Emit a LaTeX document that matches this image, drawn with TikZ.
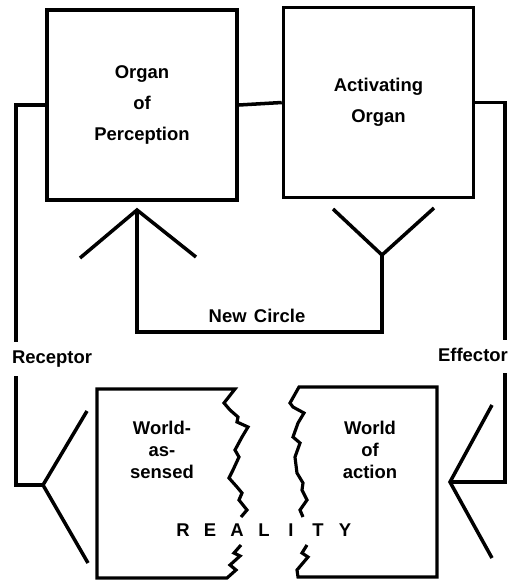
\documentclass[tikz,border=0pt]{standalone}
\usepackage{fontspec}
\setmainfont{Liberation Sans}
\begin{document}
\begin{tikzpicture}[x=0.02cm, y=-0.02cm,
    wire/.style={line width=2pt},
    tear/.style={line width=1.8pt},
    organ/.style={draw, line width=2pt, minimum size=3.8cm, inner sep=0pt,
      align=center, font=\bfseries\fontsize{10.5}{17.5}\selectfont},
    lbl/.style={inner sep=1pt, font=\bfseries\fontsize{10.5}{12}\selectfont},
    world/.style={align=center, inner sep=0pt, font=\bfseries\fontsize{10.5}{12.4}\selectfont}]
  \useasboundingbox (0,0) rectangle (509,583);

  % the two organs
  \node[organ] (perc) at (142,105)   {Organ\\of\\Perception};
  \node[organ] (act)  at (378.5,102.5) {Activating\\Organ};
  \draw[wire] (perc.east) -- (act.west);

  % labels
  \node[lbl] (circ) at (257,316) {New\hspace{0.4em}Circle};
  \node[lbl] (rec)  at (52,359)  {Receptor};
  \node[lbl] (eff)  at (473,355) {Effector};

  % new circle: perception arrow and activating fork
  \coordinate (papex) at (137,210);
  \coordinate (pl)    at (80,258);
  \coordinate (pr)    at (196,257);
  \coordinate (pfoot) at (137,332);
  \coordinate (afoot) at (382,332);
  \coordinate (ay)    at (382,255);
  \coordinate (al)    at (333,209);
  \coordinate (ar)    at (434,208);
  \draw[wire] (pl) -- (papex) -- (pr);
  \draw[wire] (papex) -- (pfoot) -- (afoot) -- (ay);
  \draw[wire] (al) -- (ay) -- (ar);

  % receptor side
  \coordinate (rtop)  at (16,342);
  \coordinate (rbot)  at (16,376);
  \coordinate (rfork) at (43,485);
  \coordinate (rup)   at (87,411);
  \coordinate (rdown) at (88,563);
  \draw[wire] (perc.west) -| (rtop);
  \draw[wire] (rbot) |- (rfork);
  \draw[wire] (rup) -- (rfork) -- (rdown);

  % effector side
  \coordinate (etop)  at (505,340);
  \coordinate (ebot)  at (505,373);
  \coordinate (efork) at (450,482);
  \coordinate (eup)   at (492,405);
  \coordinate (edown) at (492,558);
  \draw[wire] (act.east) -| (etop);
  \draw[wire] (ebot) |- (efork);
  \draw[wire] (eup) -- (efork) -- (edown);

  % world-as-sensed, torn on its right
  \draw[tear] (241,517) -- (247,510) -- (239,500) -- (242,493) -- (237,487)
    -- (229,478) -- (233,470) -- (239,457) -- (235,450) -- (242,437)
    -- (248,427) -- (237,422) -- (238,417) -- (230,410) -- (224,403)
    -- (235,389) -- (97,389) -- (97,578) -- (227,578) -- (236,570)
    -- (230,565) -- (240,556) -- (234,553) -- (241,545);

  % world of action, torn on its left
  \draw[tear] (303,517) -- (300,510) -- (307,500) -- (302,490) -- (303,483)
    -- (297,473) -- (295,457) -- (300,443) -- (293,437) -- (298,423)
    -- (304,413) -- (293,407) -- (290,403) -- (299,387) -- (437,387)
    -- (437,577) -- (298,577) -- (297,570) -- (308,557) -- (302,553)
    -- (307,545);

  \node[world] (sensed) at (162,450) {World-\\as-\\sensed};
  \node[world] (action) at (370,450) {World\\of\\action};

  % reality across the gap
  \foreach \l [count=\i from 0] in {R,E,A,L,I,T,Y}
    \node[lbl] (real\i) at (183+27*\i,530) {\l};
\end{tikzpicture}
\end{document}
